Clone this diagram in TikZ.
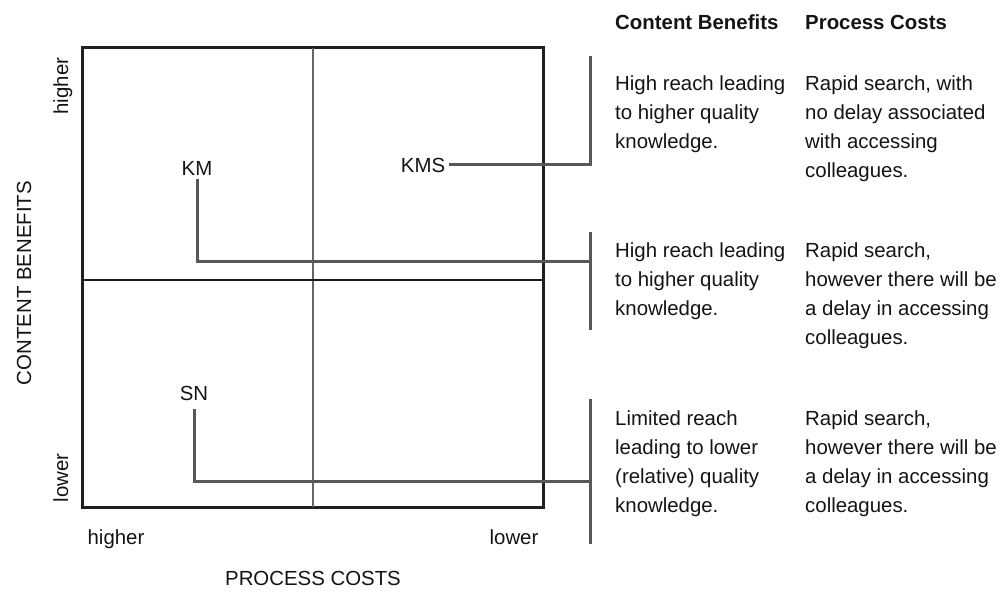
\documentclass[tikz,border=0pt]{standalone}
\usepackage{fontspec}
\setmainfont{Liberation Sans}
\usetikzlibrary{positioning,calc}

\begin{document}
\begin{tikzpicture}[x=1pt, y=-1pt,
        every node/.style={font=\fontsize{20.4}{29}\selectfont, text=black!92},
        link/.style={draw=linkgray, line width=3pt},
        axislabel/.style={anchor=base},
        heading/.style={anchor=base west, inner sep=0pt, font=\fontsize{20.4}{29}\selectfont\bfseries},
        cell/.style={anchor=north west, inner sep=0pt, align=left}]
        \definecolor{linkgray}{RGB}{88,88,88}
        \useasboundingbox (0,0) rectangle (1003,593);

        % Quadrant grid
        \draw[line width=3pt, black!88] (82,48) rectangle (543,507);
        \draw[line width=1.4pt, black!60] (313,48) -- (313,507);
        \draw[line width=1.4pt, black!90] (82,280) -- (543,280);

        % Axis labels
        \node[axislabel, rotate=90] (yhigh) at (68,86) {higher};
        \node[axislabel, rotate=90] (ylow) at (68,478) {lower};
        \node[axislabel, rotate=90] (yaxis) at (31,283) {CONTENT BENEFITS};
        \node[axislabel] (xhigh) at (116,544) {higher};
        \node[axislabel] (xlow) at (514,544) {lower};
        \node[axislabel] (xaxis) at (313,585) {PROCESS COSTS};

        % Positions in the grid
        \node (kms) at (423,165) {KMS};
        \node (km) at (197,168) {KM};
        \node (sn) at (194,393) {SN};

        % Bracket coordinates
        \coordinate (b1top) at (590,56);
        \coordinate (b2top) at (590,232);
        \coordinate (b2bot) at (590,330);
        \coordinate (b2join) at (590,262);
        \coordinate (b3top) at (590,399);
        \coordinate (b3bot) at (590,544);
        \coordinate (b3join) at (590,481);

        % Connectors
        \draw[link] (kms.east) -| (b1top);
        \draw[link] (b2top) -- (b2bot);
        \draw[link] (km.south) |- (b2join);
        \draw[link] (b3top) -- (b3bot);
        \draw[link, shorten <=5pt] (sn.south) |- (b3join);

        % Table headings
        \node[heading] (hbenefit) at (615,30) {Content Benefits};
        \node[heading] (hcost) at (805,30) {Process Costs};

        % Table rows
        \node[cell] (benefit1) at (615,75.5) {High reach leading\\to higher quality\\knowledge.};
        \node[cell] (cost1) at (805,75.5) {Rapid search, with\\no delay associated\\with accessing\\colleagues.};
        \node[cell] (benefit2) at (615,242.5) {High reach leading\\to higher quality\\knowledge.};
        \node[cell] (cost2) at (805,242.5) {Rapid search,\\however there will be\\a delay in accessing\\colleagues.};
        \node[cell] (benefit3) at (615,410.5) {Limited reach\\leading to lower\\(relative) quality\\knowledge.};
        \node[cell] (cost3) at (805,410.5) {Rapid search,\\however there will be\\a delay in accessing\\colleagues.};
\end{tikzpicture}
\end{document}
